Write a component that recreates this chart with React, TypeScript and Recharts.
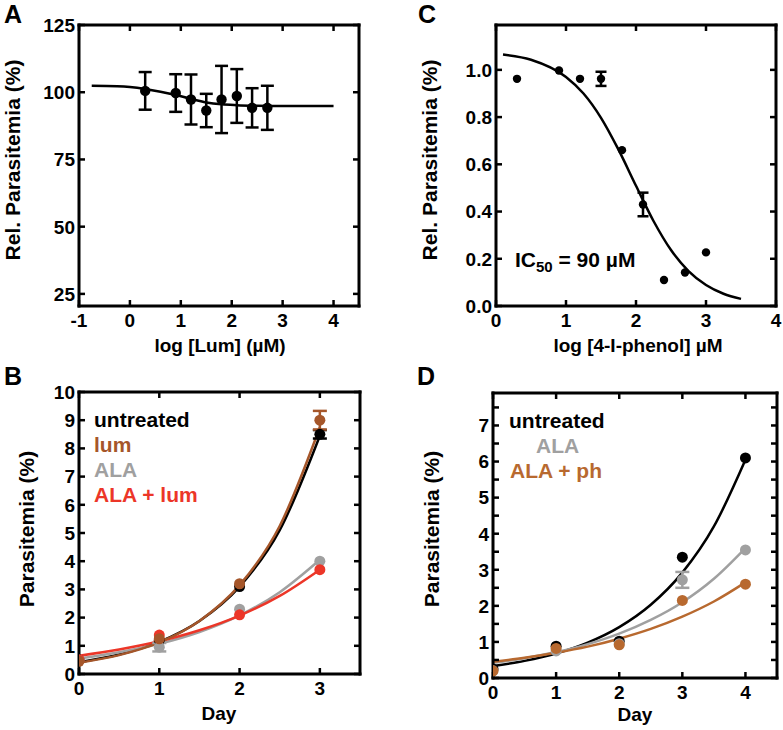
import React from "react";
import { ComposedChart, Line, Scatter, XAxis, YAxis, ErrorBar } from "recharts";

const FONT = '"Liberation Sans", Arial, Helvetica, sans-serif';
const BROWN_B = "#a5562a";
const BROWN_D = "#b8692f";
const GRAY = "#a0a0a0";
const RED = "#ec3628";

// A: log [Lum] dose response
const aXTicks = [-1, 0, 1, 2, 3, 4];
const aYTicks = [25, 50, 75, 100, 125];
const aPoints = [
  { x: 0.3, y: 100.5, err: 7 },
  { x: 0.9, y: 99.7, err: 7 },
  { x: 1.2, y: 97.3, err: 9.3 },
  { x: 1.5, y: 93.2, err: 6.2 },
  { x: 1.8, y: 97.3, err: 12.5 },
  { x: 2.1, y: 98.6, err: 10 },
  { x: 2.4, y: 94.2, err: 7.3 },
  { x: 2.7, y: 94.2, err: 8.2 },
];
const aFit = [
  { x: -0.75, y: 102.4 },
  { x: -0.25, y: 102.2 },
  { x: 0, y: 101.9 },
  { x: 0.3, y: 101.2 },
  { x: 0.6, y: 100.2 },
  { x: 0.9, y: 99.0 },
  { x: 1.2, y: 97.5 },
  { x: 1.5, y: 96.2 },
  { x: 1.8, y: 95.5 },
  { x: 2.1, y: 95.2 },
  { x: 2.5, y: 95.0 },
  { x: 3, y: 94.9 },
  { x: 4, y: 94.9 },
];

// C: log [4-I-phenol] dose response
const cXTicks = [0, 1, 2, 3, 4];
const cYTicks = [0, 0.2, 0.4, 0.6, 0.8, 1.0];
const cPoints = [
  { x: 0.3, y: 0.962 },
  { x: 0.9, y: 0.997 },
  { x: 1.2, y: 0.962 },
  { x: 1.5, y: 0.962, err: 0.03 },
  { x: 1.8, y: 0.66 },
  { x: 2.1, y: 0.43, err: 0.05 },
  { x: 2.4, y: 0.11 },
  { x: 2.7, y: 0.142 },
  { x: 3.0, y: 0.227 },
];
const cFit = [
  { x: 0.1, y: 1.065 },
  { x: 0.5, y: 1.043 },
  { x: 1.0, y: 0.97 },
  { x: 1.25, y: 0.9 },
  { x: 1.5, y: 0.797 },
  { x: 1.75, y: 0.662 },
  { x: 2.0, y: 0.509 },
  { x: 2.25, y: 0.36 },
  { x: 2.5, y: 0.237 },
  { x: 2.75, y: 0.148 },
  { x: 3.0, y: 0.089 },
  { x: 3.25, y: 0.052 },
  { x: 3.5, y: 0.03 },
];

// B: growth with lum
const bXTicks = [0, 1, 2, 3];
const bYTicks = [0, 1, 2, 3, 4, 5, 6, 7, 8, 9, 10];
const bUntreated = [
  { x: 0, y: 0.5 },
  { x: 1, y: 1.2 },
  { x: 2, y: 3.1 },
  { x: 3, y: 8.5, err: 0.15 },
];
const bLum = [
  { x: 0, y: 0.45 },
  { x: 1, y: 1.25 },
  { x: 2, y: 3.2 },
  { x: 3, y: 9.0, err: 0.33 },
];
const bAla = [
  { x: 0, y: 0.5 },
  { x: 1, y: 0.95, err: 0.15 },
  { x: 2, y: 2.3 },
  { x: 3, y: 4.0 },
];
const bAlaLum = [
  { x: 0, y: 0.5 },
  { x: 1, y: 1.38 },
  { x: 2, y: 2.1 },
  { x: 3, y: 3.7 },
];
const bFitDays = [0, 0.5, 1, 1.5, 2, 2.5, 3];
const bFitUntreated = [0.42, 0.69, 1.14, 1.88, 3.1, 5.1, 8.45];
const bFitLum = [0.4, 0.67, 1.12, 1.88, 3.15, 5.25, 8.75];
const bFitAla = [0.55, 0.77, 1.07, 1.49, 2.08, 2.9, 4.05];
const bFitAlaLum = [0.65, 0.87, 1.16, 1.55, 2.07, 2.77, 3.7];

// D: growth with 4-I-phenol
const dXTicks = [0, 1, 2, 3, 4];
const dYTicks = [0, 0.5, 1, 1.5, 2, 2.5, 3, 3.5, 4, 4.5, 5, 5.5, 6, 6.5, 7, 7.5];
const dUntreated = [
  { x: 0, y: 0.25 },
  { x: 1, y: 0.88 },
  { x: 2, y: 1.02 },
  { x: 3, y: 3.35 },
  { x: 4, y: 6.1 },
];
const dAla = [
  { x: 0, y: 0.2 },
  { x: 1, y: 0.75 },
  { x: 2, y: 0.95 },
  { x: 3, y: 2.72, err: 0.22 },
  { x: 4, y: 3.55 },
];
const dAlaPh = [
  { x: 0, y: 0.2 },
  { x: 1, y: 0.82 },
  { x: 2, y: 0.92 },
  { x: 3, y: 2.15 },
  { x: 4, y: 2.6 },
];
const dFitDays = [0, 0.5, 1, 1.5, 2, 2.5, 3, 3.5, 4];
const dFitUntreated = [0.33, 0.475, 0.68, 0.98, 1.41, 2.03, 2.92, 4.2, 6.05];
const dFitAla = [0.42, 0.55, 0.72, 0.94, 1.23, 1.61, 2.1, 2.75, 3.6];
const dFitAlaPh = [0.45, 0.56, 0.7, 0.87, 1.09, 1.36, 1.7, 2.12, 2.65];

const zip = (xs: number[], ys: number[]) => xs.map((x, i) => ({ x, y: ys[i] }));

// tick marks point into the box (negative tickSize); tickMargin cancels it,
// so the label callback gets the axis position itself
const TICK = 6;

const leftLabel = (fmt: (v: number) => string, isMinor?: (v: number) => boolean) => (p: any) => {
  const v = p.payload.value as number;
  if (isMinor && isMinor(v)) return <g />;
  return (
    <text x={Number(p.x) - 4} y={Number(p.y)} dy="0.36em" textAnchor="end" fontFamily={FONT} fontWeight="bold" fontSize={19} fill="#000">
      {fmt(v)}
    </text>
  );
};

const bottomLabel = (p: any) => (
  <text x={Number(p.x)} y={Number(p.y) + 21} textAnchor="middle" fontFamily={FONT} fontWeight="bold" fontSize={19} fill="#000">
    {String(p.payload.value)}
  </text>
);

const noLabel = () => <g />;

const axisLine = { stroke: "#000", strokeWidth: 3, strokeLinecap: "square" as const };
const tickLine = { stroke: "#000", strokeWidth: 2.5 };

type PanelProps = {
  left: number;
  top: number;
  width: number;
  height: number;
  marginTop: number;
  marginRight: number;
  yAxisWidth: number;
  xAxisHeight: number;
  xDomain: [number, number];
  yDomain: [number, number];
  xTicks: number[];
  yTicks: number[];
  yFmt: (v: number) => string;
  minor?: (v: number) => boolean;
  children: React.ReactNode;
};

function Panel(props: PanelProps) {
  const { left, top, width, height, marginTop, marginRight, yAxisWidth, xAxisHeight, xDomain, yDomain, xTicks, yTicks, yFmt, minor } = props;
  const common = {
    type: "number" as const,
    interval: 0 as const,
    allowDataOverflow: true,
    axisLine,
    tickLine,
    tickSize: -TICK,
    tickMargin: TICK,
  };
  return (
    <div style={{ position: "absolute", left, top, width, height }}>
      <ComposedChart width={width} height={height} margin={{ top: marginTop - 2, right: marginRight - 1, bottom: 0, left: 0 }}>
        <XAxis xAxisId={0} dataKey="x" domain={xDomain} ticks={xTicks} height={xAxisHeight} tick={bottomLabel} {...common} />
        <XAxis xAxisId="top" dataKey="x" orientation="top" domain={xDomain} ticks={xTicks} height={2} tick={noLabel} {...common} />
        <YAxis yAxisId={0} domain={yDomain} ticks={yTicks} width={yAxisWidth} tick={leftLabel(yFmt, minor)} {...common} />
        <YAxis yAxisId="right" orientation="right" domain={yDomain} ticks={yTicks} width={1} tick={noLabel} {...common} />
        {props.children}
      </ComposedChart>
    </div>
  );
}

const dot = (r: number, fill: string) => (p: any) =>
  p.cx == null ? <g /> : <circle cx={p.cx} cy={p.cy} r={r} fill={fill} />;

const fitLine = (key: string, data: { x: number; y: number }[], color: string) => (
  <Line
    key={key}
    data={data}
    dataKey="y"
    type="monotone"
    stroke={color}
    strokeWidth={2.5}
    dot={false}
    activeDot={false}
    isAnimationActive={false}
  />
);

const points = (key: string, data: any[], color: string, r: number, cap: number) => (
  <Scatter key={key} data={data} dataKey="y" shape={dot(r, color)} isAnimationActive={false}>
    <ErrorBar dataKey="err" direction="y" width={cap} stroke={color} strokeWidth={2.5} />
  </Scatter>
);

const txt = { fontFamily: FONT, fontWeight: "bold" as const, fill: "#000" };

export default function App() {
  return (
    <div style={{ position: "absolute", left: 0, top: 0, width: 783, height: 730, background: "#fff" }}>
      <Panel
        left={0}
        top={0}
        width={400}
        height={365}
        marginTop={25}
        marginRight={41}
        yAxisWidth={79}
        xAxisHeight={59}
        xDomain={[-1, 4.5]}
        yDomain={[20.5, 125]}
        xTicks={aXTicks}
        yTicks={aYTicks}
        yFmt={(v) => String(v)}
      >
        {[fitLine("aFit", aFit, "#000"), points("aPts", aPoints, "#000", 5.2, 6.5)]}
      </Panel>

      <Panel
        left={390}
        top={0}
        width={393}
        height={365}
        marginTop={25}
        marginRight={7}
        yAxisWidth={106}
        xAxisHeight={59}
        xDomain={[0, 4]}
        yDomain={[0, 1.19]}
        xTicks={cXTicks}
        yTicks={cYTicks}
        yFmt={(v) => v.toFixed(1)}
      >
        {[fitLine("cFit", cFit, "#000"), points("cPts", cPoints, "#000", 4.2, 5.5)]}
      </Panel>

      <Panel
        left={0}
        top={365}
        width={400}
        height={365}
        marginTop={27}
        marginRight={40}
        yAxisWidth={79}
        xAxisHeight={56}
        xDomain={[0, 3.5]}
        yDomain={[0, 10]}
        xTicks={bXTicks}
        yTicks={bYTicks}
        yFmt={(v) => String(v)}
      >
        {[
          fitLine("bF1", zip(bFitDays, bFitUntreated), "#000"),
          fitLine("bF3", zip(bFitDays, bFitAla), GRAY),
          fitLine("bF4", zip(bFitDays, bFitAlaLum), RED),
          fitLine("bF2", zip(bFitDays, bFitLum), BROWN_B),
          points("bP1", bUntreated, "#000", 5.5, 7),
          points("bP3", bAla, GRAY, 5.5, 7),
          points("bP4", bAlaLum, RED, 5.5, 7),
          points("bP2", bLum, BROWN_B, 5.5, 7),
        ]}
      </Panel>

      <Panel
        left={390}
        top={365}
        width={393}
        height={365}
        marginTop={28}
        marginRight={6}
        yAxisWidth={103}
        xAxisHeight={52}
        xDomain={[0, 4.5]}
        yDomain={[0, 7.9]}
        xTicks={dXTicks}
        yTicks={dYTicks}
        yFmt={(v) => String(v)}
        minor={(v) => !Number.isInteger(v)}
      >
        {[
          fitLine("dF1", zip(dFitDays, dFitUntreated), "#000"),
          fitLine("dF2", zip(dFitDays, dFitAla), GRAY),
          fitLine("dF3", zip(dFitDays, dFitAlaPh), BROWN_D),
          points("dP1", dUntreated, "#000", 5.5, 7),
          points("dP2", dAla, GRAY, 5.5, 7),
          points("dP3", dAlaPh, BROWN_D, 5.5, 7),
        ]}
      </Panel>

      <svg width={783} height={730} style={{ position: "absolute", left: 0, top: 0, pointerEvents: "none" }}>
        <text x={4} y={23} fontSize={25} {...txt}>A</text>
        <text x={418} y={23} fontSize={25} {...txt}>C</text>
        <text x={4} y={385} fontSize={25} {...txt}>B</text>
        <text x={417} y={385} fontSize={25} {...txt}>D</text>

        <text transform="translate(20,160) rotate(-90)" textAnchor="middle" fontSize={21} {...txt}>Rel. Parasitemia (%)</text>
        <text transform="translate(437,160) rotate(-90)" textAnchor="middle" fontSize={21} {...txt}>Rel. Parasitemia (%)</text>
        <text transform="translate(34,529) rotate(-90)" textAnchor="middle" fontSize={21} {...txt}>Parasitemia (%)</text>
        <text transform="translate(439,529) rotate(-90)" textAnchor="middle" fontSize={21} {...txt}>Parasitemia (%)</text>

        <text x={220} y={352} textAnchor="middle" fontSize={19} {...txt}>log [Lum] (µM)</text>
        <text x={638} y={352} textAnchor="middle" fontSize={19} {...txt}>log [4-I-phenol] µM</text>
        <text x={219} y={720} textAnchor="middle" fontSize={19} {...txt}>Day</text>
        <text x={635} y={721} textAnchor="middle" fontSize={19} {...txt}>Day</text>

        <text x={515} y={267} fontSize={21} {...txt}>
          IC<tspan fontSize={15} dy={5}>50</tspan><tspan dy={-5}> = 90 µM</tspan>
        </text>

        <text x={94} y={427} fontSize={21} {...txt}>untreated</text>
        <text x={94} y={452} fontSize={21} {...txt} fill={BROWN_B}>lum</text>
        <text x={94} y={477} fontSize={21} {...txt} fill={GRAY}>ALA</text>
        <text x={94} y={502} fontSize={21} {...txt} fill={RED}>ALA + lum</text>

        <text x={509} y={428} fontSize={21} {...txt}>untreated</text>
        <text x={536} y={453} fontSize={21} {...txt} fill={GRAY}>ALA</text>
        <text x={510} y={478} fontSize={21} {...txt} fill={BROWN_D}>ALA + ph</text>
      </svg>
    </div>
  );
}
